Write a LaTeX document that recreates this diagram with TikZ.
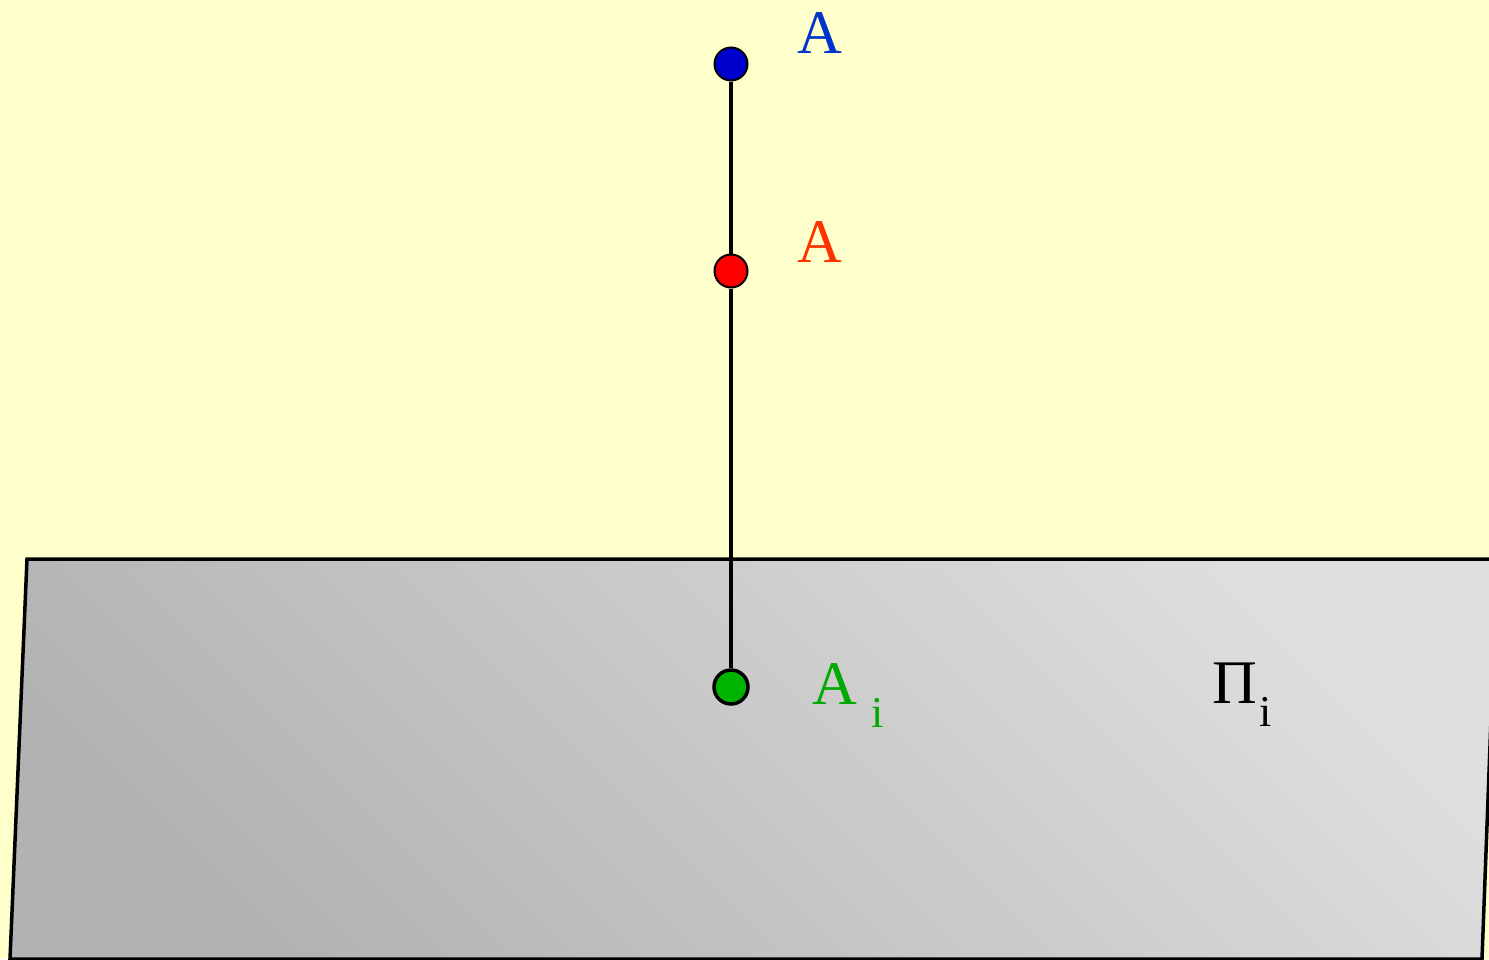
\documentclass[tikz,border=0pt]{standalone}
\usepackage{fontspec}
\setmainfont{Liberation Serif}
\definecolor{bgyellow}{HTML}{FFFFCC}
\definecolor{planelight}{HTML}{DEDEDE}
\definecolor{planedark}{HTML}{B2B2B2}
\definecolor{ptblue}{HTML}{0000CC}
\definecolor{txtblue}{HTML}{0033CC}
\definecolor{ptred}{HTML}{FF0000}
\definecolor{txtred}{HTML}{FF3300}
\definecolor{ptgreen}{HTML}{00B300}
\definecolor{txtgreen}{HTML}{00AA00}
\tikzset{
  pointdot/.style={circle, draw=black, line width=2pt, minimum size=33pt, inner sep=0pt},
  bigtext/.style={anchor=base west, inner sep=0pt, font=\fontsize{62}{70}\selectfont},
  connector/.style={line width=3.5pt}
}
\newcommand{\subi}{\raisebox{-23pt}{\fontsize{44}{50}\selectfont i}}
\begin{document}
\begin{tikzpicture}[x=1pt,y=-1pt]
\useasboundingbox (0,0) rectangle (1489,959);
\clip (0,0) rectangle (1489,959);
\fill[bgyellow] (0,0) rectangle (1489,959);
% plane
\shade[top color=planelight, bottom color=planedark, shading angle=-45]
  (27,559) -- (1497,559) -- (1482,959) -- (10,959) -- cycle;
\draw[line width=3.5pt, line join=miter]
  (27,559) -- (1497,559) -- (1482,959) -- (10,959) -- cycle;
% points
\node[pointdot, fill=ptblue] (pa) at (731,64) {};
\node[pointdot, fill=ptred] (pr) at (731,271) {};
\node[pointdot, fill=ptgreen, line width=3.5pt, minimum size=34pt] (pg) at (731,687) {};
\draw[connector] (pa.south) -- (pr.north);
\draw[connector] (pr.south) -- (pg.north);
% labels
\node[bigtext, text=txtblue] (la) at (797,53) {A};
\node[bigtext, text=txtred] (lr) at (797,262) {A};
\node[bigtext, text=txtgreen] (lg) at (812,704) {A\hspace{15pt}\subi};
\node[bigtext, text=black] (lpi) at (1212,703) {Π\hspace{3pt}\subi};
\end{tikzpicture}
\end{document}
